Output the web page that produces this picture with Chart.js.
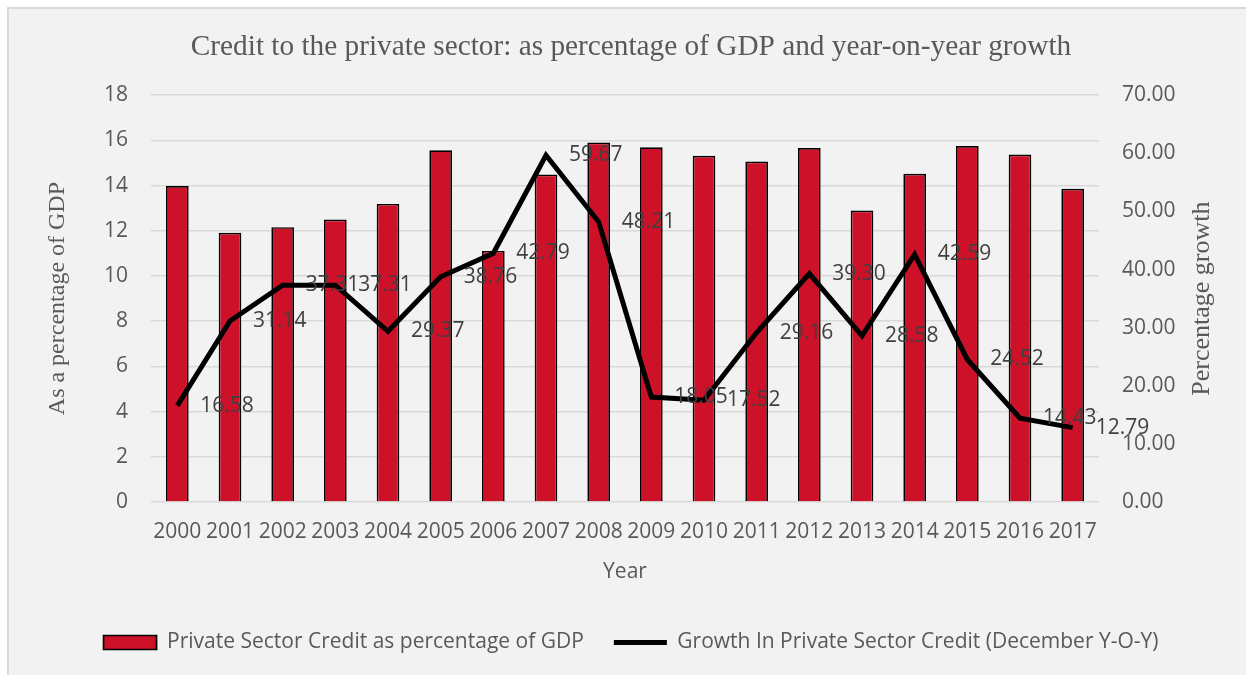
<!DOCTYPE html>
<html>
<head>
<meta charset="utf-8">
<script src="https://cdn.jsdelivr.net/npm/chart.js@4/dist/chart.umd.min.js"></script>
<style>
  html, body { margin: 0; padding: 0; background: #ffffff; overflow: hidden; }
  #frame {
    position: absolute; left: 7px; top: 7px; width: 1260px; height: 690px;
    background: #f2f2f2; border: 2px solid #d9d9d9; box-sizing: border-box;
  }
  #wrap { position: absolute; left: 0; top: 0; width: 1246px; height: 675px; }
</style>
</head>
<body>
<div id="frame"></div>
<div id="wrap"><canvas id="chart" width="1246" height="675"></canvas></div>
<script>
// Years on the category axis
const years = ['2000', '2001', '2002', '2003', '2004', '2005', '2006', '2007', '2008',
               '2009', '2010', '2011', '2012', '2013', '2014', '2015', '2016', '2017'];

// Private sector credit as % of GDP (left axis)
const creditToGdp = [13.98, 11.91, 12.16, 12.50, 13.19, 15.56, 11.11, 14.49, 15.90,
                     15.69, 15.32, 15.06, 15.66, 12.90, 14.52, 15.75, 15.37, 13.86];

// December year-on-year growth of private sector credit, % (right axis)
const creditGrowth = [16.58, 31.14, 37.31, 37.31, 29.37, 38.76, 42.79, 59.67, 48.21,
                      18.05, 17.52, 29.16, 39.30, 28.58, 42.59, 24.52, 14.43, 12.79];

const SANS = "'Open Sans', 'Liberation Sans', sans-serif";
const SERIF = "'Liberation Serif', 'DejaVu Serif', serif";
const TEXT = '#595959';
const RIGHT_TITLE = 'Percentage growth';

// Value labels to the right of each growth point
const growthLabels = {
  id: 'growthLabels',
  afterDatasetsDraw(chart) {
    const meta = chart.getDatasetMeta(1);
    const ds = chart.data.datasets[1];
    const ctx = chart.ctx;
    ctx.save();
    ctx.font = '21px ' + SANS;
    ctx.fillStyle = '#404040';
    ctx.textAlign = 'left';
    ctx.textBaseline = 'middle';
    meta.data.forEach((pt, i) => {
      ctx.fillText(Number(ds.data[i]).toFixed(2), pt.x + 23, pt.y);
    });
    ctx.restore();
  }
};

// Right axis title, read bottom-to-top like the left one
const rightAxisTitle = {
  id: 'rightAxisTitle',
  afterDraw(chart) {
    const s = chart.scales.y1;
    const ctx = chart.ctx;
    ctx.save();
    ctx.translate(s.right - 42, (s.top + s.bottom) / 2);
    ctx.rotate(-Math.PI / 2);
    ctx.font = '26px ' + SERIF;
    ctx.fillStyle = TEXT;
    ctx.textAlign = 'center';
    ctx.textBaseline = 'middle';
    ctx.fillText(RIGHT_TITLE, 0, 0);
    ctx.restore();
  }
};

new Chart(document.getElementById('chart'), {
  data: {
    labels: years,
    datasets: [
      {
        type: 'bar',
        label: 'Private Sector Credit as percentage of GDP',
        data: creditToGdp,
        yAxisID: 'y',
        backgroundColor: '#cd1128',
        borderColor: '#000000',
        borderWidth: 1.7,
        categoryPercentage: 1.0,
        barPercentage: 0.43,
        order: 2
      },
      {
        type: 'line',
        label: 'Growth In Private Sector Credit (December Y-O-Y)',
        data: creditGrowth,
        yAxisID: 'y1',
        borderColor: '#000000',
        backgroundColor: '#000000',
        borderWidth: 5,
        pointRadius: 0,
        pointHoverRadius: 0,
        tension: 0,
        fill: false,
        order: 1
      }
    ]
  },
  options: {
    responsive: false,
    animation: false,
    devicePixelRatio: 1,
    layout: { padding: { left: 18, right: 2, top: 0, bottom: 12 } },
    plugins: {
      tooltip: { enabled: false },
      title: {
        display: true,
        text: 'Credit to the private sector: as percentage of GDP and year-on-year growth',
        color: TEXT,
        font: { family: SERIF, size: 29.3, weight: 'normal' },
        padding: { top: 30, bottom: 30 }
      },
      legend: {
        position: 'bottom',
        labels: {
          color: TEXT,
          font: { family: SANS, size: 21 },
          usePointStyle: true,
          pointStyleWidth: 53,
          boxWidth: 53,
          boxHeight: 14,
          padding: 30,
          generateLabels(chart) {
            return chart.data.datasets.map((ds, i) => ({
              text: ds.label,
              datasetIndex: i,
              fillStyle: ds.backgroundColor,
              strokeStyle: ds.borderColor,
              lineWidth: ds.type === 'line' ? 5 : 1.7,
              pointStyle: ds.type === 'line' ? 'line' : 'rect',
              fontColor: TEXT,
              hidden: false
            }));
          }
        }
      }
    },
    scales: {
      x: {
        grid: { display: false, drawTicks: false },
        border: { display: false },
        ticks: { color: TEXT, font: { family: SANS, size: 21 }, padding: 17, maxRotation: 0, autoSkip: false },
        title: { display: true, text: 'Year', color: TEXT, font: { family: SANS, size: 21 }, padding: { top: 0, bottom: 17 } },
        afterFit(scale) { scale.height = 100; }
      },
      y: {
        position: 'left',
        min: 0, max: 18,
        grid: { color: '#d9d9d9', lineWidth: 1.5, drawTicks: false },
        border: { display: false },
        ticks: { stepSize: 2, color: TEXT, font: { family: SANS, size: 21 }, padding: 23 },
        title: { display: true, text: 'As a percentage of GDP', color: TEXT, font: { family: SERIF, size: 24 }, padding: { top: 25, bottom: 0 } },
        afterFit(scale) { scale.width = 133; }
      },
      y1: {
        position: 'right',
        min: 0, max: 70,
        grid: { drawOnChartArea: false, drawTicks: false },
        border: { display: false },
        ticks: {
          stepSize: 10, color: TEXT, font: { family: SANS, size: 21 }, padding: 23,
          callback: (v) => Number(v).toFixed(2)
        },
        afterFit(scale) { scale.width = 145; }
      }
    }
  },
  plugins: [growthLabels, rightAxisTitle]
});
</script>
</body>
</html>
